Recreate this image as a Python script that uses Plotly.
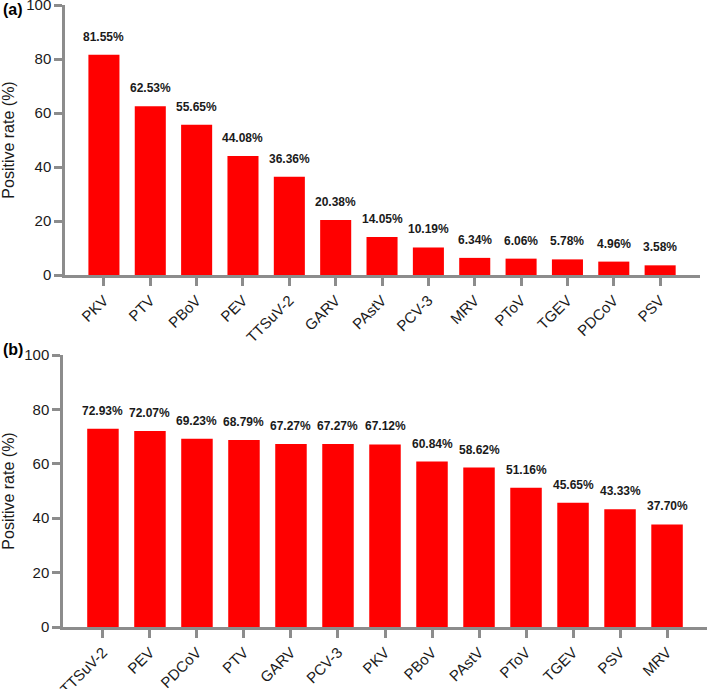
import plotly.graph_objects as go

# panel (a)
viruses_a = ["PKV", "PTV", "PBoV", "PEV", "TTSuV-2", "GARV", "PAstV", "PCV-3",
             "MRV", "PToV", "TGEV", "PDCoV", "PSV"]
rates_a = [81.55, 62.53, 55.65, 44.08, 36.36, 20.38, 14.05, 10.19,
           6.34, 6.06, 5.78, 4.96, 3.58]

# panel (b)
viruses_b = ["TTSuV-2", "PEV", "PDCoV", "PTV", "GARV", "PCV-3", "PKV", "PBoV",
             "PAstV", "PToV", "TGEV", "PSV", "MRV"]
rates_b = [72.93, 72.07, 69.23, 68.79, 67.27, 67.27, 67.12, 60.84,
           58.62, 51.16, 45.65, 43.33, 37.70]

W, H = 709, 689
FONT = "Liberation Sans, Arial, sans-serif"
AXIS_COLOR = "#8c8c8c"

fig = go.Figure()

fig.add_trace(go.Bar(x=viruses_a, y=rates_a, marker=dict(color="#ff0000", line=dict(width=0)),
                     width=0.67, xaxis="x", yaxis="y", showlegend=False))
fig.add_trace(go.Bar(x=viruses_b, y=rates_b, marker=dict(color="#ff0000", line=dict(width=0)),
                     width=0.67, xaxis="x2", yaxis="y2", showlegend=False))

annotations = []
for xref, yref, names, vals in [("x", "y", viruses_a, rates_a), ("x2", "y2", viruses_b, rates_b)]:
    for n, v in zip(names, vals):
        annotations.append(dict(x=n, y=v, xref=xref, yref=yref, text=f"<b>{v:.2f}%</b>",
                                showarrow=False, yshift=18,
                                font=dict(family=FONT, size=12, color="#1a1a1a"),
                                ))

annotations += [
    dict(x=0, y=1, xref="paper", yref="paper", text="<b>(a)</b>", showarrow=False,
         xanchor="left", yanchor="top", xshift=1, yshift=1, font=dict(family=FONT, size=16, color="black")),
    dict(x=0, y=(H - 339) / H, xref="paper", yref="paper", text="<b>(b)</b>", showarrow=False,
         xanchor="left", yanchor="top", xshift=1, font=dict(family=FONT, size=16, color="black")),
]

axis_common = dict(showline=True, linecolor=AXIS_COLOR, linewidth=2.5, ticks="outside",
                   tickcolor=AXIS_COLOR, tickwidth=2.5, ticklen=8, showgrid=False, zeroline=False,
                   automargin=False, ticklabeloverflow="allow",
                   tickfont=dict(family=FONT, size=15, color="#1a1a1a"))

title_font = dict(family=FONT, size=16, color="#1a1a1a")

fig.update_layout(
    width=W, height=H,
    margin=dict(l=0, r=0, t=0, b=0),
    plot_bgcolor="white", paper_bgcolor="white",
    bargap=0.33,
    annotations=annotations,
    xaxis=dict(domain=[65 / W, 700 / W], range=[-0.84, 12.86], tickangle=-45,
               anchor="y", **axis_common),
    yaxis=dict(domain=[(H - 275) / H, (H - 5) / H], range=[0, 100], dtick=20,
               anchor="x", title=dict(text="Positive rate (%)", standoff=12, font=title_font),
               **axis_common),
    xaxis2=dict(domain=[63 / W, 707 / W], range=[-0.85, 12.85], tickangle=-45,
                anchor="y2", **axis_common),
    yaxis2=dict(domain=[(H - 627) / H, (H - 355) / H], range=[0, 100], dtick=20,
                anchor="x2", title=dict(text="Positive rate (%)", standoff=12, font=title_font),
                **axis_common),
)

# drop the browser's default 8px body margin so the figure sits at the window origin
fig.write_html("out.html", config={"displayModeBar": False},
               post_script="document.body.style.margin='0';")
